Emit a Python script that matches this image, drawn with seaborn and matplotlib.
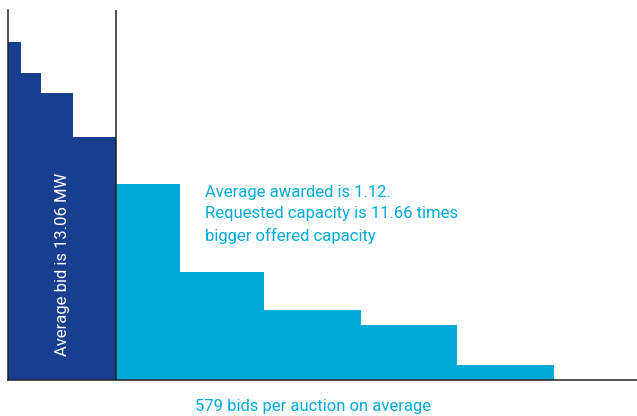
import numpy as np
import matplotlib
matplotlib.use("Agg")
import matplotlib.pyplot as plt
import seaborn as sns

# step widths and heights (arbitrary units)
bid_widths = [13, 20, 32, 43]
bid_heights = [338, 307, 287, 243]
awarded_widths = [64, 84, 97, 96, 97]
awarded_heights = [196, 108, 70, 55, 15]

dark_blue = "#183F8F"
light_blue = "#00ABD9"

sns.set_theme(style="white")
plt.rcParams['font.family'] = ['Roboto', 'DejaVu Sans']

fig = plt.figure(figsize=(6.37, 4.16), dpi=100)
ax = fig.add_axes([8 / 637, 36 / 416, 629 / 637, 370 / 416])

widths = bid_widths + awarded_widths
heights = bid_heights + awarded_heights
lefts = np.concatenate([[0], np.cumsum(widths)[:-1]])
colors = [dark_blue] * len(bid_widths) + [light_blue] * len(awarded_widths)
ax.bar(lefts, heights, width=widths, align='edge', color=colors, linewidth=0)

split = sum(bid_widths)
ax.axvline(split, color="#222222", linewidth=1.1)

ax.set_xlim(0, 629)
ax.set_ylim(0, 370)
ax.set_xticks([])
ax.set_yticks([])
for side in ['top', 'right']:
    ax.spines[side].set_visible(False)
for side in ['left', 'bottom']:
    ax.spines[side].set_color("#222222")
    ax.spines[side].set_linewidth(1.1)

ax.text(split / 2, 116, "Average bid is 13.06 MW", rotation=90, color="white",
        fontsize=12, ha='center', va='center')
ax.text(197, 195, "Average awarded is 1.12.\nRequested capacity is 11.66 times\nbigger offered capacity",
        color=light_blue, fontsize=12, ha='left', va='top', linespacing=1.5)
fig.text(313 / 637, 1 - 406 / 416, "579 bids per auction on average", color=light_blue,
         fontsize=12, ha='center', va='center')

fig.savefig("out.png", dpi=100)
